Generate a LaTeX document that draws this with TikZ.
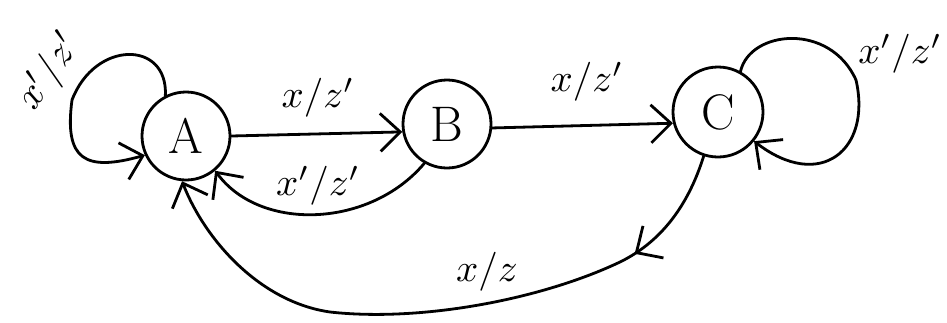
\documentclass[tikz,border=0pt]{standalone}
\usetikzlibrary{arrows.meta,decorations.markings}
\newcommand{\biglbl}[1]{\scalebox{3.9}{$#1$}}
\begin{document}
\begin{tikzpicture}[x=1pt,y=-1pt,line width=2.8pt,line cap=round,line join=round,
  state/.style={circle,draw,minimum size=88pt,inner sep=0pt,font=\fontsize{50}{52}\selectfont},
  lbl/.style={inner sep=1pt},
  barb/.tip={Straight Barb[length=20pt,width=38pt,line width=2.8pt]},
  arr/.style={-barb},
  midarr/.style={postaction={decorate},decoration={markings,mark=at position #1 with {\arrow{barb}}}}]
\useasboundingbox (0,0) rectangle (947,322);
\node[state] (A) at (186,136) {A};
\node[state] (B) at (447,124) {B};
\node[state,minimum size=90pt] (C) at (718,112) {C};
% A -> B
\draw[arr] (A.east) -- (B.190);
\node[lbl] (lab) at (318,98) {\biglbl{x/z'}};
% B -> C
\draw[arr] (B.-5) -- (C.194);
\node[lbl] (lbc) at (587,82) {\biglbl{x/z'}};
% B -> A
\draw[arr] (B.240) .. controls (370,228) and (260,232) .. (A.-50);
\node[lbl] (lba) at (318,186) {\biglbl{x'/z'}};
% C -> A
\draw[arr,midarr=0.19] (C.252) .. controls (690,200) and (665,240) .. (620,262)
   .. controls (540,300) and (420,322) .. (330,312)
   .. controls (260,302) and (205,240) .. (A.-95);
\node[lbl] (lca) at (487,272) {\biglbl{x/z}};
% A self-loop
\draw[arr] (A.117) .. controls (168,40) and (95,40) .. (72,100)
   .. controls (64,160) and (85,172) .. (A.205);
\node[lbl,rotate=55] (laa) at (50,72) {\biglbl{x'/z'}};
% C self-loop
\draw[arr] (C.61) .. controls (750,30) and (830,22) .. (856,80)
   .. controls (872,150) and (820,192) .. (C.-39);
\node[lbl] (lcc) at (900,54) {\biglbl{x'/z'}};
\end{tikzpicture}
\end{document}
